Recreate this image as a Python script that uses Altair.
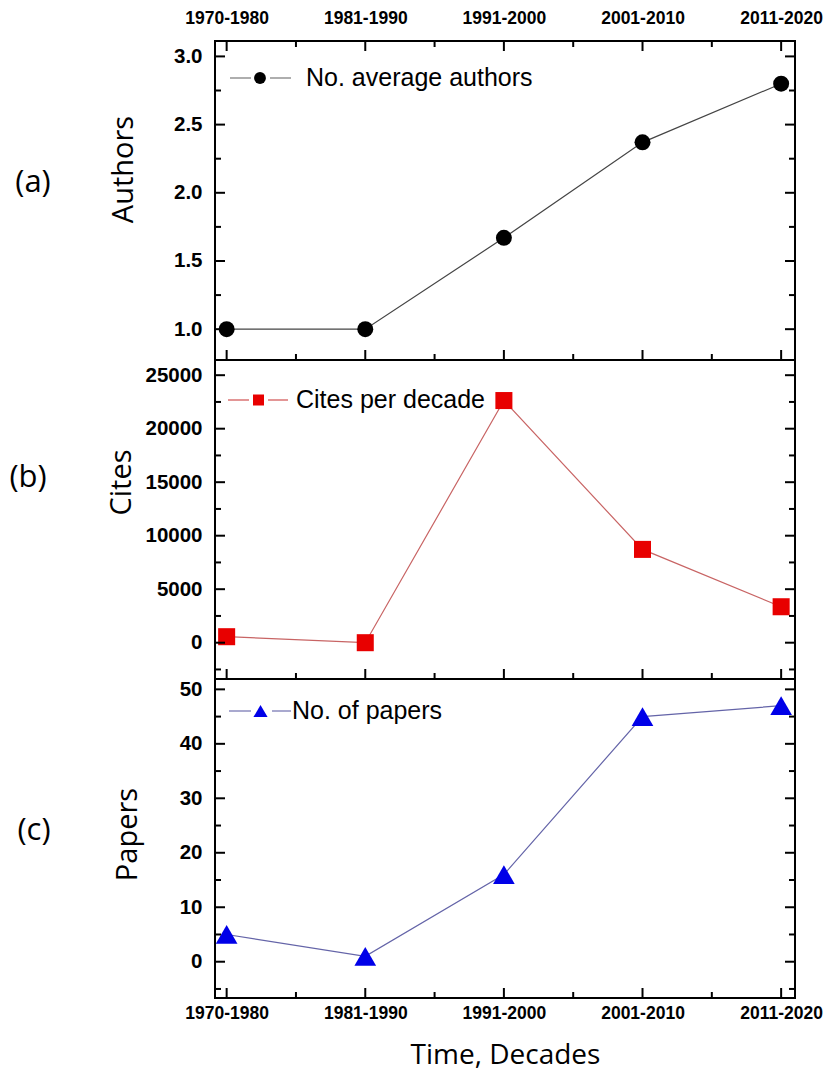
import json
import altair as alt
import pandas as pd

# ---------------- data ----------------
decades = ["1970-1980", "1981-1990", "1991-2000", "2001-2010", "2011-2020"]
authors = [1.0, 1.0, 1.67, 2.37, 2.80]
cites = [560, 0, 22630, 8720, 3360]
papers = [5, 1, 16, 45, 47]

authors_major = [1.0, 1.5, 2.0, 2.5, 3.0]
authors_minor = [1.25, 1.75, 2.25, 2.75]
cites_major = [0, 5000, 10000, 15000, 20000, 25000]
cites_minor = [-2500, 2500, 7500, 12500, 17500, 22500]
papers_major = [0, 10, 20, 30, 40, 50]
papers_minor = [-5, 5, 15, 25, 35, 45]

legend_labels = ["No. average authors", "Cites per decade", "No. of papers"]
panel_tags = ["(a)", "(b)", "(c)"]
y_titles = ["Authors", "Cites", "Papers"]
x_title = "Time, Decades"

# ---------------- layout ----------------
W, H = 580, 319
idx = list(range(len(decades)))
x_major = idx
x_minor = [i + 0.5 for i in idx[:-1]]
xscale = alt.Scale(domain=[-0.084, 4.1], nice=False, zero=False)
label_expr = json.dumps(decades) + "[datum.value]"

TICK_FONT = "Liberation Sans"
TITLE_FONT = "Open Sans"
MAJ, MIN = 10, 6


def x_axis(orient, with_title=False):
    kw = dict(
        orient=orient, values=idx, labelExpr=label_expr,
        labelFont=TICK_FONT, labelFontWeight="bold", labelFontSize=17.5,
        labelColor="black", labelFlush=False, labelOverlap=False,
        ticks=False, tickSize=0, domain=False, grid=False,
    )
    if orient == "top":
        kw.update(labelBaseline="alphabetic", labelPadding=18)
    else:
        kw.update(labelBaseline="top", labelPadding=6)
    if with_title:
        kw.update(title=x_title, titleFont=TITLE_FONT, titleFontSize=28,
                  titleFontWeight="normal", titleColor="black",
                  titleY=57, titleBaseline="middle")
    else:
        kw.update(title=None)
    return alt.Axis(**kw)


def panel(values, domain, ymaj, ymin, fmt, ytitle, title_xy, tag, tag_xy,
          line_color, mark_color, shape, msize, leg_label, leg, top_labels,
          bottom_labels, leg_line_color):
    df = pd.DataFrame({"i": idx, "decade": decades, "value": values})
    yscale = alt.Scale(domain=domain, nice=False, zero=False)
    yaxis = alt.Axis(
        values=ymaj, format=fmt, labelFont=TICK_FONT, labelFontWeight="bold",
        labelFontSize=20.5, labelColor="black", labelPadding=13,
        ticks=False, tickSize=0, domain=False, grid=False,
        title=ytitle, titleFont=TITLE_FONT, titleFontSize=29,
        titleFontWeight="normal", titleColor="black",
        titleX=title_xy[0], titleY=title_xy[1], titleAngle=270,
        titleAlign="center", titleBaseline="middle",
    )
    if top_labels:
        xax = x_axis("top")
    elif bottom_labels:
        xax = x_axis("bottom", with_title=True)
    else:
        xax = None
    X = alt.X("i:Q", scale=xscale, axis=xax)
    Y = alt.Y("value:Q", scale=yscale, axis=yaxis)

    line = alt.Chart(df).mark_line(color=line_color, strokeWidth=1.2).encode(x=X, y=Y)
    pts = alt.Chart(df).mark_point(shape=shape, filled=True, size=msize,
                                   color=mark_color, opacity=1).encode(x=X, y=Y)

    layers = [line, pts]

    # inward y ticks, left and right
    for vals, ln in ((ymaj, MAJ), (ymin, MIN)):
        tdf = pd.DataFrame({"value": vals})
        layers.append(alt.Chart(tdf).mark_rule(color="black", strokeWidth=2).encode(
            y=Y, x=alt.value(0), x2=alt.value(ln)))
        layers.append(alt.Chart(tdf).mark_rule(color="black", strokeWidth=2).encode(
            y=Y, x=alt.value(W), x2=alt.value(W - ln)))
    # inward x ticks
    for vals, ln in ((x_major, MAJ), (x_minor, MIN)):
        tdf = pd.DataFrame({"i": vals})
        layers.append(alt.Chart(tdf).mark_rule(color="black", strokeWidth=2).encode(
            x=X, y=alt.value(H), y2=alt.value(H - ln)))
        if top_labels:
            layers.append(alt.Chart(tdf).mark_rule(color="black", strokeWidth=2).encode(
                x=X, y=alt.value(0), y2=alt.value(ln)))

    # legend (drawn inside the plot)
    ldf = pd.DataFrame({"label": [leg_label]})
    (s1a, s1b), (s2a, s2b), cx, tx, ly, lsize = leg
    layers.append(alt.Chart(ldf).mark_rule(color=leg_line_color, strokeWidth=1.2).encode(
        x=alt.value(s1a), x2=alt.value(s1b), y=alt.value(ly)))
    layers.append(alt.Chart(ldf).mark_rule(color=leg_line_color, strokeWidth=1.2).encode(
        x=alt.value(s2a), x2=alt.value(s2b), y=alt.value(ly)))
    layers.append(alt.Chart(ldf).mark_point(shape=shape, filled=True, size=lsize,
                                            color=mark_color, opacity=1).encode(
        x=alt.value(cx), y=alt.value(ly)))
    layers.append(alt.Chart(ldf).mark_text(align="left", baseline="middle",
                                           font="Liberation Sans", fontSize=25,
                                           color="black").encode(
        x=alt.value(tx), y=alt.value(ly), text="label:N"))

    # panel tag
    tdf = pd.DataFrame({"tag": [tag]})
    layers.append(alt.Chart(tdf).mark_text(align="center", baseline="middle",
                                           font=TITLE_FONT, fontSize=31,
                                           color="black").encode(
        x=alt.value(tag_xy[0]), y=alt.value(tag_xy[1]), text="tag:N"))

    return alt.layer(*layers).properties(width=W, height=H)


pa = panel(authors, [0.774, 3.113], authors_major, authors_minor, ".1f",
           y_titles[0], (-92, 128), panel_tags[0], (-182, 141.5),
           "#444444", "black", "circle", 255, legend_labels[0],
           ((15, 36), (55, 76), 45, 91, 37, 140), True, False, "#777777")
pb = panel(cites, [-3393, 26420], cites_major, cites_minor, "d",
           y_titles[1], (-94, 122), panel_tags[1], (-187, 118),
           "#c86464", "#e80000", "square", 290, legend_labels[1],
           ((13, 34), (53, 73), 43.5, 81, 40, 121), False, False, "#d05050")
pc = panel(papers, [-6.66, 51.9], papers_major, papers_minor, "d",
           y_titles[2], (-87.5, 155), panel_tags[2], (-181, 151.5),
           "#6464a8", "#0000e8", "triangle-up", 470, legend_labels[2],
           ((14, 36), (57, 76), 45.5, 77, 32, 200), False, True, "#7070b0")

chart = alt.vconcat(pa, pb, pc, spacing=0, bounds="flush").resolve_scale(
    x="independent", y="independent"
).configure_view(stroke="black", strokeWidth=2).properties(
    padding={"left": 0, "top": 0, "right": 0, "bottom": 0}
)

chart.save("out.html", embed_options={"renderer": "svg", "actions": False})
